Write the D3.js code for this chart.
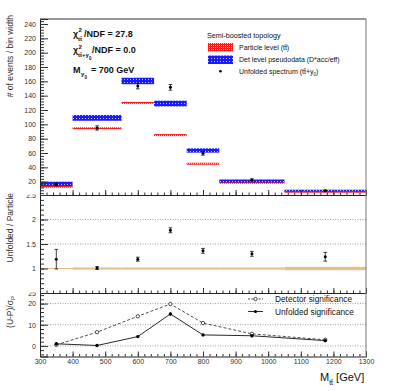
<!DOCTYPE html>
<html>
<head>
<script src="https://cdnjs.cloudflare.com/ajax/libs/d3/7.8.5/d3.min.js"></script>
<style>
body { margin: 0; background: #fff; }
text { font-family: "Liberation Sans", Arial, sans-serif; }
</style>
</head>
<body>
<div id="chart"></div>
<script>
// bins in M_tt [GeV]
var binEdges = [300, 400, 550, 650, 750, 850, 1050, 1300];
var binCenters = [350, 475, 600, 700, 800, 950, 1175];

// top panel: # of events / bin width
var particle = [13, 94.5, 130, 85, 45, 18.5, 6];
var particleErr = [1.2, 1.3, 1.3, 1.3, 1.2, 1.2, 1];
var detector = [17, 109, 160.5, 129, 63.5, 21, 7.4];
var detectorErr = [3, 4, 4.5, 4, 3, 2, 1];
var unfolded = [16, 95, 153.5, 151.7, 59.5, 22.5, 7.4];
var unfoldedErr = [2, 3, 4, 4, 2.5, 1.5, 0.8];

// middle panel: unfolded / particle
var ratio = [1.19, 1.01, 1.19, 1.78, 1.36, 1.30, 1.24];
var ratioErr = [0.2, 0.03, 0.04, 0.05, 0.05, 0.05, 0.09];
var ratioBand = [0.008, 0.022, 0.022, 0.022, 0.022, 0.022, 0.034];

// bottom panel: (U-P)/sigma_P
var detSig = [0.5, 6.5, 14, 19.8, 10.8, 5.7, 2.9];
var unfSig = [1.0, 0.2, 4.4, 15.1, 5.2, 4.8, 2.5];
var unfSigErr = [0.8, 0.5, 0.6, 0.8, 0.6, 0.8, 0.8];

var xTicks = [300, 400, 500, 600, 700, 800, 900, 1000, 1100, 1200, 1300];
var topTicks = [20, 40, 60, 80, 100, 120, 140, 160, 180, 200, 220, 240];
var midTicks = [1, 1.5, 2, 2.5];
var botTicks = [0, 10, 20, 25];

var W = 407, H = 391;
var L = 40, R = 366;
var topY0 = 19, topY1 = 195, midY1 = 293, botY1 = 356.5;

var svg = d3.select("#chart").append("svg")
	.attr("width", W)
	.attr("height", H);
svg.append("rect").attr("width", W).attr("height", H).attr("fill", "#fff");

var defs = svg.append("defs");
function hatch(id, col, n) {
	var p = defs.append("pattern")
		.attr("id", id)
		.attr("width", n).attr("height", n)
		.attr("patternUnits", "userSpaceOnUse");
	p.append("rect").attr("width", n).attr("height", n).attr("fill", col);
	p.append("rect").attr("x", 1).attr("y", 1).attr("width", 1).attr("height", 1).attr("fill", "#fff").attr("opacity", 0.75);
}
hatch("pRed", "#ff1a1a", 2);
hatch("pBlue", "#1a1aff", 3);
defs.append("clipPath").attr("id", "clipMid")
	.append("rect").attr("x", -40).attr("y", topY1 - 0.5).attr("width", 400).attr("height", 200);
defs.append("clipPath").attr("id", "clipBot")
	.append("rect").attr("x", -40).attr("y", midY1 - 0.5).attr("width", 400).attr("height", 200);

var x = d3.scaleLinear().domain([300, 1300]).range([L, R]);
var yTop = d3.scaleLinear().domain([1.4, 247]).range([topY1, topY0]);
var yMid = d3.scaleLinear().domain([0.5, 2.5]).range([midY1, topY1]);
var yBot = d3.scaleLinear().domain([-5, 25]).range([botY1, midY1]);

var bins = d3.range(binCenters.length);

// ---- helpers
function yAxis(scale, major, minorStep, fmt, clip) {
	var d = scale.domain();
	var minor = d3.range(Math.ceil(d[0] / minorStep) * minorStep, d[1] + 1e-9, minorStep);
	svg.append("g")
		.attr("transform", "translate(" + L + ",0)")
		.call(d3.axisLeft(scale).tickValues(minor).tickSize(-4).tickFormat(""))
		.call(function(g) { g.select(".domain").remove(); })
		.selectAll("line").attr("stroke", "#333");
	var g = svg.append("g")
		.attr("transform", "translate(" + L + ",0)")
		.call(d3.axisLeft(scale).tickValues(major).tickSize(-8).tickPadding(4).tickFormat(fmt));
	if (clip) g.attr("clip-path", "url(#" + clip + ")");
	g.select(".domain").attr("stroke", "#222");
	g.selectAll("line").attr("stroke", "#333");
	g.selectAll("text").attr("font-size", 7).attr("fill", "#333")
		.attr("font-family", "Liberation Sans, Arial, sans-serif");
}
function xAxis(yPos, labels) {
	svg.append("g")
		.attr("transform", "translate(0," + yPos + ")")
		.call(d3.axisBottom(x).tickValues(d3.range(300, 1301, 20)).tickSize(-2.5).tickFormat(""))
		.call(function(g) { g.select(".domain").remove(); })
		.selectAll("line").attr("stroke", "#333");
	var g = svg.append("g")
		.attr("transform", "translate(0," + yPos + ")")
		.call(d3.axisBottom(x).tickValues(xTicks).tickSize(-5).tickPadding(3)
			.tickFormat(labels ? d3.format("d") : ""));
	g.select(".domain").attr("stroke", "#222");
	g.selectAll("line").attr("stroke", "#333");
	g.selectAll("text").attr("font-size", 7).attr("fill", "#333")
		.attr("font-family", "Liberation Sans, Arial, sans-serif");
}
function dotted(scale, vals) {
	svg.selectAll(null).data(vals).enter().append("line")
		.attr("x1", L).attr("x2", R)
		.attr("y1", function(d) { return scale(d); })
		.attr("y2", function(d) { return scale(d); })
		.attr("stroke", "#888").attr("stroke-width", 0.8)
		.attr("stroke-dasharray", "1,1.5");
}
function errBars(scale, vals, errs, cls) {
	var g = svg.append("g").attr("class", cls);
	bins.forEach(function(i) {
		var cx = x(binCenters[i]);
		var y1 = scale(vals[i] + errs[i]), y2 = scale(vals[i] - errs[i]);
		g.append("line").attr("x1", cx).attr("x2", cx).attr("y1", y1).attr("y2", y2)
			.attr("stroke", "#111").attr("stroke-width", 0.8);
		[y1, y2].forEach(function(yy) {
			g.append("line").attr("x1", cx - 1.8).attr("x2", cx + 1.8).attr("y1", yy).attr("y2", yy)
				.attr("stroke", "#111").attr("stroke-width", 0.8);
		});
		g.append("circle").attr("cx", cx).attr("cy", scale(vals[i])).attr("r", 1.5).attr("fill", "#000");
	});
}
function band(scale, vals, errs, fill, minH) {
	svg.selectAll(null).data(bins).enter().append("rect")
		.attr("x", function(i) { return x(binEdges[i]); })
		.attr("width", function(i) { return x(binEdges[i + 1]) - x(binEdges[i]); })
		.attr("y", function(i) {
			var h = Math.max(scale(vals[i] - errs[i]) - scale(vals[i] + errs[i]), minH);
			return scale(vals[i]) - h / 2;
		})
		.attr("height", function(i) {
			return Math.max(scale(vals[i] - errs[i]) - scale(vals[i] + errs[i]), minH);
		})
		.attr("fill", fill);
}

// ---- top panel
band(yTop, particle, particleErr, "url(#pRed)", 2);
band(yTop, detector, detectorErr, "url(#pBlue)", 2);
errBars(yTop, unfolded, unfoldedErr, "unf");
yAxis(yTop, topTicks, 4, d3.format("d"), null);
xAxis(topY1, false);

// ---- middle panel
dotted(yMid, [1, 1.5, 2]);
band(yMid, ratio.map(function() { return 1; }), ratioBand, "#e6bf8c", 1);
errBars(yMid, ratio, ratioErr, "ratio");
yAxis(yMid, midTicks, 0.1, function(d) { return d; }, "clipMid");
xAxis(midY1, false);

// ---- bottom panel
dotted(yBot, [0, 10, 20]);
var line = d3.line()
	.x(function(d, i) { return x(binCenters[i]); })
	.y(function(d) { return yBot(d); });
svg.append("path").datum(detSig).attr("d", line)
	.attr("fill", "none").attr("stroke", "#222").attr("stroke-width", 0.8)
	.attr("stroke-dasharray", "3,2");
svg.append("path").datum(unfSig).attr("d", line)
	.attr("fill", "none").attr("stroke", "#111").attr("stroke-width", 0.9);
svg.selectAll(null).data(detSig).enter().append("circle")
	.attr("cx", function(d, i) { return x(binCenters[i]); })
	.attr("cy", function(d) { return yBot(d); })
	.attr("r", 1.7).attr("fill", "#fff").attr("stroke", "#222").attr("stroke-width", 0.8);
bins.forEach(function(i) {
	var cx = x(binCenters[i]);
	svg.append("line").attr("x1", cx).attr("x2", cx)
		.attr("y1", yBot(unfSig[i] + unfSigErr[i])).attr("y2", yBot(unfSig[i] - unfSigErr[i]))
		.attr("stroke", "#111").attr("stroke-width", 0.8);
});
svg.selectAll(null).data(unfSig).enter().append("circle")
	.attr("cx", function(d, i) { return x(binCenters[i]); })
	.attr("cy", function(d) { return yBot(d); })
	.attr("r", 1.7).attr("fill", "#000");
yAxis(yBot, botTicks, 2, d3.format("d"), "clipBot");
xAxis(botY1, true);

// frame: top and right borders
svg.append("line").attr("x1", L).attr("x2", R).attr("y1", topY0).attr("y2", topY0)
	.attr("stroke", "#333");
svg.append("line").attr("x1", R).attr("x2", R).attr("y1", topY0).attr("y2", botY1)
	.attr("stroke", "#777");

// ---- axis titles
function vTitle(yEnd) {
	return svg.append("text")
		.attr("transform", "translate(13," + yEnd + ") rotate(-90)")
		.attr("text-anchor", "end")
		.attr("font-size", 8.5).attr("fill", "#333");
}
vTitle(15).text("# of events / bin width");
vTitle(193).text("Unfolded / Particle");
var sig = vTitle(296);
sig.append("tspan").text("(U-P)/σ");
sig.append("tspan").attr("font-size", 6).attr("dy", 2).text("P");

var xt = svg.append("text").attr("x", 320).attr("y", 381).attr("font-size", 11).attr("fill", "#111");
xt.append("tspan").text("M");
xt.append("tspan").attr("font-size", 7).attr("dy", 4).text("tt\u0304");
xt.append("tspan").attr("dy", -4).text(" [GeV]");

// ---- info text (top-left)
function txt(xx, yy, s, size, bold) {
	return svg.append("text").attr("x", xx).attr("y", yy)
		.attr("font-size", size).attr("font-weight", bold ? "bold" : "normal")
		.attr("fill", "#111").text(s);
}
txt(73, 36.5, "χ", 9, true);
txt(78.5, 32, "2", 6, true);
txt(78, 40.5, "tt\u0304", 6, true);
txt(84, 36.5, "/NDF = 27.8", 9, true);

txt(73, 53, "χ", 9, true);
txt(78.5, 48.5, "2", 6, true);
txt(78, 57, "tt\u0304+y", 6, true);
txt(89, 59.5, "0", 4.5, true);
txt(92, 53, "/NDF = 0.0", 9, true);

txt(73, 72.5, "M", 9, true);
txt(81, 76, "y", 6, true);
txt(84.5, 78.5, "0", 4.5, true);
txt(91, 72.5, "= 700 GeV", 9, true);

// ---- legend (top)
txt(207, 38, "Semi-boosted topology", 7.2, false);
svg.append("rect").attr("x", 208).attr("y", 43).attr("width", 25).attr("height", 8.5).attr("fill", "url(#pRed)");
svg.append("rect").attr("x", 208).attr("y", 55.5).attr("width", 25).attr("height", 8.5).attr("fill", "url(#pBlue)");
svg.append("circle").attr("cx", 220.5).attr("cy", 71.3).attr("r", 1.3).attr("fill", "#000");
txt(239, 49.5, "Particle level (tt\u0304)", 7, false);
txt(239, 62, "Det level pseudodata (D*acc/eff)", 7, false);
var l3 = txt(239, 74, "Unfolded spectrum (tt\u0304+y", 7, false);
l3.append("tspan").attr("font-size", 4.5).attr("dy", 2).text("0");
l3.append("tspan").attr("dy", -2).text(")");

// ---- legend (bottom)
svg.append("line").attr("x1", 248).attr("x2", 263).attr("y1", 299).attr("y2", 299)
	.attr("stroke", "#222").attr("stroke-width", 0.8).attr("stroke-dasharray", "2,1.5");
svg.append("circle").attr("cx", 255.5).attr("cy", 299).attr("r", 1.7)
	.attr("fill", "#fff").attr("stroke", "#222").attr("stroke-width", 0.8);
svg.append("line").attr("x1", 248).attr("x2", 263).attr("y1", 311.5).attr("y2", 311.5)
	.attr("stroke", "#111").attr("stroke-width", 0.9);
svg.append("circle").attr("cx", 255.5).attr("cy", 311.5).attr("r", 1.5).attr("fill", "#000");
txt(275, 302, "Detector significance", 8.3, false);
txt(275, 314.5, "Unfolded significance", 8.3, false);
</script>
</body>
</html>
